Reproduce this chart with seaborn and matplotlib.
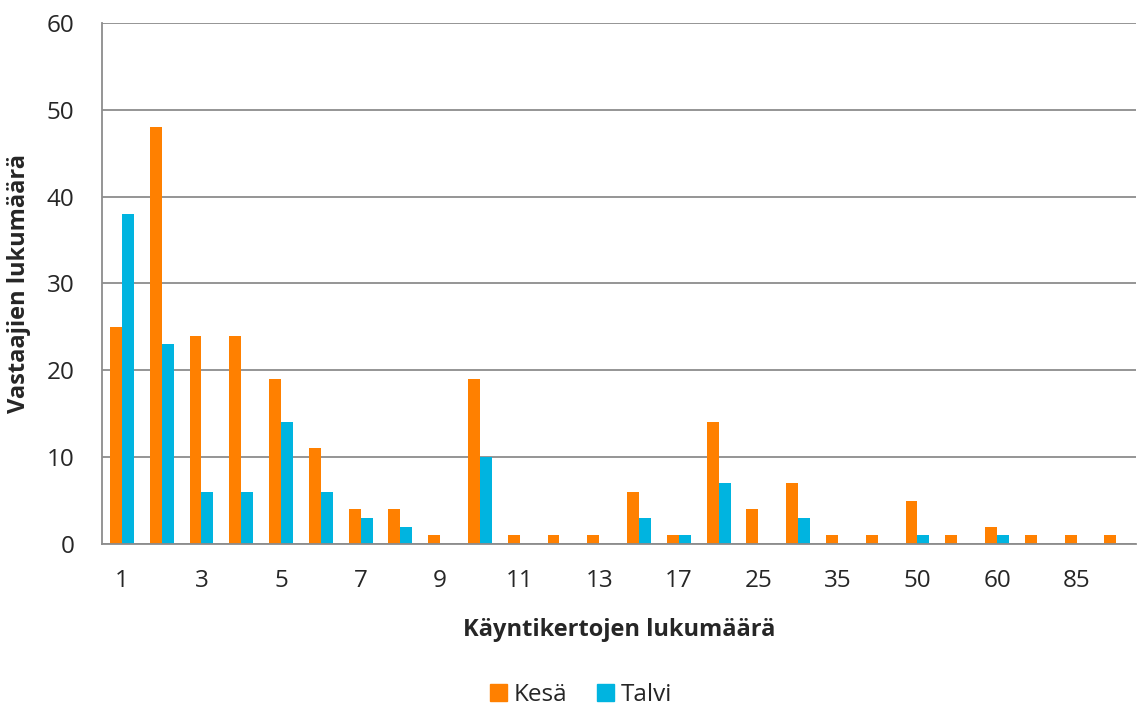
import pandas as pd
import matplotlib
matplotlib.use("Agg")
import matplotlib.pyplot as plt
import seaborn as sns
from matplotlib.patches import Patch

# category labels (only every other one is shown on the axis)
categories = ["1", "2", "3", "4", "5", "6", "7", "8", "9", "10", "11", "12", "13",
              "15", "17", "20", "25", "30", "35", "40", "50", "55", "60", "70", "85", "100"]
kesa = [25, 48, 24, 24, 19, 11, 4, 4, 1, 19, 1, 1, 1, 6, 1, 14, 4, 7, 1, 1, 5, 1, 2, 1, 1, 1]
talvi = [38, 23, 6, 6, 14, 6, 3, 2, 0, 10, 0, 0, 0, 3, 1, 7, 0, 3, 0, 0, 1, 0, 1, 0, 0, 0]
series = ["Kesä", "Talvi"]
colors = ["#FF8000", "#00B4E0"]

df = pd.DataFrame({
    "kerrat": categories * 2,
    "vastaajat": kesa + talvi,
    "kausi": [series[0]] * len(categories) + [series[1]] * len(categories),
})

sns.set_style("white")
plt.rcParams["font.family"] = ["Open Sans", "DejaVu Sans"]

fig = plt.figure(figsize=(11.39, 7.13), dpi=100)
ax = fig.add_axes([0.0896, 0.237, 0.908, 0.731])

sns.barplot(data=df, x="kerrat", y="vastaajat", hue="kausi", order=categories,
            hue_order=series, palette=colors, width=0.6, gap=0, saturation=1,
            linewidth=0, legend=False, ax=ax)

ax.set_ylim(0, 60)
ax.set_xlim(-0.5, len(categories) - 0.5)
ax.set_yticks(range(0, 61, 10))
ax.yaxis.grid(True, color="#8c8c8c", linewidth=1.3)
ax.set_axisbelow(True)
ax.set_xticks(range(0, len(categories), 2))
ax.set_xticklabels(categories[::2])
ax.tick_params(axis="x", length=0, labelsize=17.5, pad=18)
ax.tick_params(axis="y", length=7, width=1.3, color="#8c8c8c", labelsize=17.5, pad=13)
for s in ["top", "right"]:
    ax.spines[s].set_visible(False)
for s in ["left", "bottom"]:
    ax.spines[s].set_color("#8c8c8c")
    ax.spines[s].set_linewidth(1.3)

ax.set_xlabel("Käyntikertojen lukumäärä", fontsize=17, fontweight="bold", labelpad=18)
ax.set_ylabel("Vastaajien lukumäärä", fontsize=17, fontweight="bold", labelpad=11)

handles = [Patch(color=c, label=l) for c, l in zip(colors, series)]
fig.legend(handles=handles, loc="lower center", bbox_to_anchor=(0.51, -0.022), ncol=2,
           frameon=False, fontsize=17.5, handlelength=0.7, handleheight=0.7,
           handletextpad=0.3, columnspacing=1.2)

fig.savefig("out.png", dpi=100)
